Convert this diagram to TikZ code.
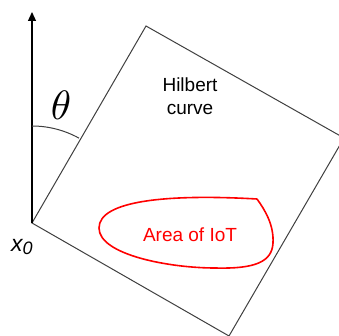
\documentclass[tikz,border=0pt]{standalone}
\usepackage{fontspec}
\setsansfont{Liberation Sans}
\usetikzlibrary{arrows.meta}
\definecolor{edgegray}{HTML}{404040}
\tikzset{
  sqedge/.style={draw=edgegray, line width=1pt},
  axisline/.style={draw=black, line width=1.2pt, -{Triangle[length=9pt,width=8pt]}},
  anglearc/.style={draw=edgegray, line width=1pt},
  iotarea/.style={draw=red, line width=1.6pt},
  lbl/.style={font=\sffamily\fontsize{19}{23}\selectfont, align=center, inner sep=0pt},
}
\begin{document}
\begin{tikzpicture}[x=1pt,y=-1pt]
\fill[white] (0,0) rectangle (339,336);
\useasboundingbox (0,0) rectangle (339,336);
\clip (0,0) rectangle (339,336);
% corners of the rotated square
\coordinate (x0) at (32,223);
\coordinate (top) at (146,26);
\coordinate (right) at (344,138);
\coordinate (bottom) at (229,336);
\coordinate (tip) at (32,12);
\draw[sqedge] (x0) -- (top) -- (right) -- (bottom) -- cycle;
\draw[axisline] (x0) -- (tip);
\draw[anglearc] (32,126) arc[start angle=-90, end angle=-61, radius=97];
\node[inner sep=0pt] (theta) at (61,105) {\scalebox{4.1}{$\theta$}};
\node[lbl] (hilbert) at (190,96) {Hilbert\\curve};
% area of IoT
\draw[iotarea] (257,199) .. controls (170,194) and (99,200) .. (99,228)
  .. controls (99,255) and (170,268) .. (215,268)
  .. controls (255,269) and (272,262) .. (273,243)
  .. controls (274,225) and (265,210) .. (257,199);
\node[lbl, text=red] (iot) at (190,235) {Area of IoT};
\node[inner sep=0pt, anchor=base west] (xlabel) at (11,251) {\sffamily\itshape\fontsize{23}{25}\selectfont x\raisebox{-3pt}{\fontsize{18}{20}\selectfont 0}};
\end{tikzpicture}
\end{document}
